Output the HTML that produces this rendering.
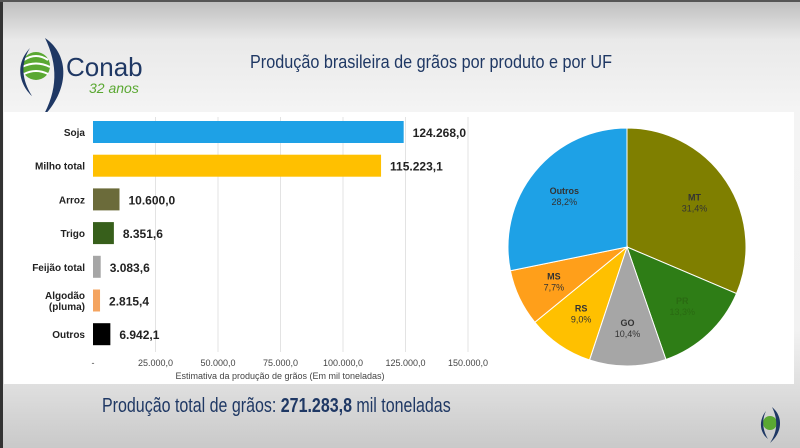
<!DOCTYPE html>
<html><head><meta charset="utf-8"><style>
html,body{margin:0;padding:0}
body{width:800px;height:448px;overflow:hidden;position:relative;background:linear-gradient(#bdbdbd 0px,#e9e9e9 40px,#f4f4f4 110px,#f2f2f2 330px,#c9c9c9 448px);font-family:"Liberation Sans",sans-serif}
.narrow{font-family:"Liberation Sans",sans-serif;transform-origin:0 0}
</style></head><body>
<div style="position:absolute;left:0;top:0;width:3px;height:448px;background:#333"></div>
<div style="position:absolute;left:0;top:0;width:800px;height:2px;background:#555"></div>
<svg width="150" height="100" style="position:absolute;left:10px;top:30px">
 <path d="M35 8 C60 25 60 60 32 88 C48 60 48 35 35 8Z" fill="#1f3864"/>
 <circle cx="26" cy="36" r="14" fill="#5aa832"/>
 <path d="M14 30 Q26 22 38 30" stroke="#fff" stroke-width="2" fill="none"/>
 <path d="M12 37 Q26 30 40 37" stroke="#fff" stroke-width="2" fill="none"/>
 <path d="M14 44 Q26 38 38 44" stroke="#fff" stroke-width="2" fill="none"/>
 <path d="M20 18 C4 35 10 55 22 66 C12 50 10 34 20 18Z" fill="#1f3864"/>
 <text x="56" y="46" font-family="Liberation Sans" font-size="26" fill="#1f3864">Conab</text>
 <text x="79" y="63" font-family="Liberation Sans" font-style="italic" font-size="14" fill="#5aa832">32 anos</text>
</svg>
<div class="narrow" style="position:absolute;left:250px;top:52px;font-size:18px;color:#1f3864;white-space:nowrap;transform:scaleX(0.9)">Produção brasileira de grãos por produto e por UF</div>
<div style="position:absolute;left:4px;top:112px;width:790px;height:272px;background:#fff"></div>
<svg id="bars" width="800" height="448" style="position:absolute;left:0;top:0"></svg>
<div class="narrow" style="position:absolute;left:102px;top:395px;font-size:20px;color:#1f3864;white-space:nowrap;transform:scaleX(0.8)">Produção total de grãos: <b>271.283,8</b> mil toneladas</div>
<svg width="30" height="40" style="position:absolute;left:756px;top:405px">
 <circle cx="14" cy="18" r="7" fill="#5aa832"/>
 <path d="M16 2 C28 12 26 28 14 38 C22 26 22 14 16 2Z" fill="#1f3864"/>
 <path d="M10 6 C2 16 4 28 12 34 C6 24 6 14 10 6Z" fill="#1f3864"/>
</svg>
<script>
const categories=["Soja","Milho total","Arroz","Trigo","Feijão total","Algodão\n(pluma)","Outros"];
const values=[124268.0,115223.1,10600.0,8351.6,3083.6,2815.4,6942.1];
const valueLabels=["124.268,0","115.223,1","10.600,0","8.351,6","3.083,6","2.815,4","6.942,1"];
const barColors=["#1ea1e6","#ffc000","#6b6b3a","#375f1b","#a6a6a6","#f4a460","#000000"];
const ticks=[0,25000,50000,75000,100000,125000,150000];
const tickLabels=["-","25.000,0","50.000,0","75.000,0","100.000,0","125.000,0","150.000,0"];
const pieLabels=["MT","PR","GO","RS","MS","Outros"];
const pieValues=[31.4,13.3,10.4,9.0,7.7,28.2];
const pieColors=["#7f7f00","#2e7d16","#a6a6a6","#ffc000","#ff9f1a","#1ea1e6"];
const NS="http://www.w3.org/2000/svg";
const svg=document.getElementById("bars");
function mk(t,a,p){const e=document.createElementNS(NS,t);for(const k in a)e.setAttribute(k,a[k]);(p||svg).appendChild(e);return e;}
const x0=93,x1=468,xs=v=>x0+(v/150000)*(x1-x0);
const ys=i=>132+i*33.7;
ticks.forEach((t,i)=>{
 if(i>0){const g=mk("line",{x1:xs(t),x2:xs(t),y1:117,y2:352,stroke:"#e3e3e3","stroke-width":1});
 
 }
 const tl=mk("text",{x:xs(t),y:366,"text-anchor":"middle","font-size":9,fill:"#444"});tl.textContent=tickLabels[i];
 
 
});
const at=mk("text",{x:280,y:379,"text-anchor":"middle","font-size":9,fill:"#444"});at.textContent="Estimativa da produção de grãos (Em mil toneladas)";


values.forEach((v,i)=>{
 const y=ys(i);
 const r=mk("rect",{x:x0,y:y-11,width:xs(v)-x0,height:22,fill:barColors[i]});
 
 
 const lines=categories[i].split("\n");
 lines.forEach((l,j)=>{const t=mk("text",{x:85,y:y+4+(j-(lines.length-1)/2)*11,"text-anchor":"end","font-size":10,"font-weight":"bold",fill:"#222"});t.textContent=l;
 
 });
 const vl=mk("text",{x:xs(v)+9,y:y+5,"font-size":12,"font-weight":"bold",fill:"#222"});vl.textContent=valueLabels[i];
 
 
});
const cx=627,cy=247,R=119;
const total=pieValues.reduce((a,b)=>a+b,0);
let acc=0;
pieValues.forEach((v,i)=>{
 const a0=acc/total*2*Math.PI;acc+=v;const a1=acc/total*2*Math.PI;
 const p=(a)=>[cx+R*Math.sin(a),cy-R*Math.cos(a)];
 const [sx,sy]=p(a0),[ex,ey]=p(a1);
 const s=mk("path",{d:`M${cx},${cy}L${sx},${sy}A${R},${R} 0 ${a1-a0>Math.PI?1:0} 1 ${ex},${ey}Z`,fill:pieColors[i],stroke:"#fff","stroke-width":1});
 
 
 const am=(a0+a1)/2,lr=R*0.68;
 const lx=cx+lr*Math.sin(am),ly=cy-lr*Math.cos(am);
 const col=i==1?"#2a6a12":"#333";
 const t1=mk("text",{x:lx,y:ly-2,"text-anchor":"middle","font-size":9,"font-weight":"bold",fill:col});t1.textContent=pieLabels[i];
 
 
 const t2=mk("text",{x:lx,y:ly+9,"text-anchor":"middle","font-size":9,fill:col});t2.textContent=v.toFixed(1).replace(".",",")+"%";
 
 
});
</script>
</body></html>
